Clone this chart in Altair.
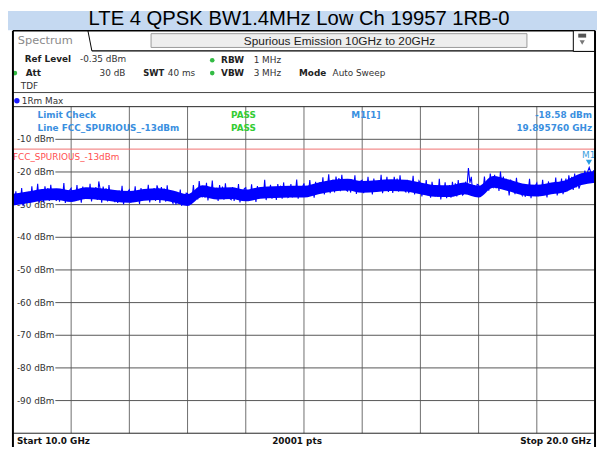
import altair as alt
import numpy as np
import pandas as pd

# ---------------- data ----------------
title_text = "LTE 4 QPSK BW1.4MHz Low Ch 19957 1RB-0"
start_ghz = 10.0
stop_ghz = 20.0

trace_dbm = [
    -26.8, -30.0, -25.9, -29.4, -27.0, -29.8, -24.9, -30.4, -26.7, -29.0,
    -28.6, -26.1, -29.3, -24.4, -29.0, -26.5, -28.2, -23.6, -29.4, -27.0,
    -25.4, -29.3, -24.4, -27.3, -24.9, -28.9, -23.9, -28.1, -25.9, -28.5,
    -28.7, -25.3, -29.1, -26.6, -27.9, -23.4, -29.5, -26.8, -28.3, -25.6,
    -25.0, -29.0, -26.0, -28.2, -24.0, -28.6, -26.5, -29.4, -24.5, -27.8,
    -27.8, -25.3, -28.2, -23.6, -29.0, -25.9, -27.4, -24.6, -28.6, -22.9,
    -25.5, -29.4, -24.5, -27.4, -25.0, -29.0, -24.0, -28.2, -26.0, -28.6,
    -29.1, -26.9, -29.5, -25.7, -28.3, -24.2, -29.9, -26.8, -28.7, -26.0,
    -25.4, -29.4, -26.4, -28.6, -24.4, -29.0, -26.9, -29.8, -24.9, -28.2,
    -28.1, -25.6, -28.5, -23.9, -29.3, -26.4, -27.7, -24.9, -28.9, -24.1,
    -25.6, -29.5, -24.6, -27.5, -25.1, -29.1, -24.1, -28.3, -26.1, -28.7,
    -29.6, -26.2, -30.0, -27.0, -28.8, -25.4, -30.4, -27.3, -29.2, -26.5,
    -26.6, -30.2, -26.8, -28.6, -24.0, -28.2, -25.8, -28.4, -22.8, -26.5,
    -27.5, -24.9, -27.9, -23.3, -28.7, -25.8, -27.1, -22.6, -28.3, -25.3,
    -25.0, -28.9, -24.0, -26.9, -24.5, -28.5, -23.5, -27.7, -25.5, -28.1,
    -28.5, -24.6, -28.9, -26.1, -27.7, -23.7, -29.3, -26.4, -28.1, -25.1,
    -24.8, -28.8, -25.8, -28.0, -23.8, -28.4, -26.3, -29.2, -24.3, -27.6,
    -27.4, -25.2, -27.8, -22.4, -28.6, -25.5, -27.0, -23.9, -28.2, -26.0,
    -24.7, -28.6, -23.7, -26.6, -24.2, -28.2, -23.2, -27.4, -25.2, -27.8,
    -27.4, -23.7, -27.8, -25.3, -26.6, -22.3, -28.2, -25.1, -27.0, -24.6,
    -23.5, -27.5, -24.5, -26.7, -22.5, -27.1, -25.0, -27.9, -23.0, -26.3,
    -25.7, -23.1, -26.1, -21.6, -26.9, -23.9, -25.3, -20.7, -26.5, -23.5,
    -22.4, -26.3, -21.4, -24.3, -21.9, -25.9, -20.9, -25.1, -22.9, -25.5,
    -25.9, -22.6, -26.3, -24.0, -25.1, -21.0, -26.7, -23.7, -25.5, -22.8,
    -22.5, -26.5, -23.5, -25.7, -21.5, -26.1, -24.0, -26.9, -22.0, -25.3,
    -25.3, -22.9, -25.7, -20.9, -26.5, -23.6, -24.9, -21.5, -26.1, -23.9,
    -22.5, -26.4, -21.5, -24.4, -22.0, -26.0, -21.0, -25.2, -23.0, -25.6,
    -26.1, -22.4, -26.5, -23.8, -25.3, -21.2, -26.9, -24.0, -25.7, -22.7,
    -23.5, -27.5, -24.5, -26.7, -22.5, -27.1, -25.0, -27.9, -23.0, -26.3,
    -27.2, -24.6, -27.6, -22.1, -28.4, -25.1, -26.8, -23.2, -28.0, -25.6,
    -24.0, -27.9, -23.0, -25.9, -23.5, -27.5, -22.5, -26.7, -24.5, -27.1,
    -26.6, -23.0, -24.5, -18.8, -23.3, -21.5, -26.9, -24.0, -27.2, -23.8,
    -24.0, -27.6, -24.2, -26.0, -21.4, -25.6, -23.1, -25.7, -20.5, -23.6,
    -24.6, -20.9, -25.0, -21.9, -25.8, -19.9, -24.2, -21.4, -25.4, -22.4,
    -23.3, -27.2, -22.3, -25.2, -22.8, -26.8, -21.8, -26.0, -23.8, -26.4,
    -27.2, -23.9, -27.6, -25.4, -26.4, -22.1, -28.0, -25.0, -26.8, -24.2,
    -23.4, -27.4, -24.4, -26.6, -22.4, -27.0, -24.9, -27.8, -22.9, -26.2,
    -26.0, -23.6, -26.4, -21.7, -27.2, -24.3, -25.6, -22.0, -26.8, -24.6,
    -22.0, -25.9, -21.0, -23.9, -21.5, -25.5, -20.5, -24.7, -22.5, -25.1,
    -23.6, -20.5, -23.0, -19.6, -21.6, -19.8, -18.58, -20.0, -23.0, -19.5,
    -21.2,
]
# sweep points, evenly spaced between start and stop frequency
freq_ghz = np.linspace(start_ghz, stop_ghz, len(trace_dbm))

# dense core of the noise band, read every 0.25 GHz
core_hi_dbm = [
    -26.7, -26.0, -25.2, -25.0, -25.6, -24.7, -25.0, -25.5, -25.8, -25.2,
    -25.0, -25.7, -26.8, -24.1, -24.8, -24.7, -25.4, -24.6, -24.4, -24.2,
    -24.2, -23.2, -22.4, -22.1, -22.8, -22.5, -22.2, -22.4, -23.2, -24.0,
    -24.1, -23.2, -24.2, -21.2, -22.2, -23.5, -23.9, -23.2, -22.5, -20.5,
    -19.7,
]
core_lo_dbm = [
    -30.3, -29.6, -28.8, -28.6, -29.2, -28.3, -28.6, -29.1, -29.4, -28.8,
    -28.6, -29.3, -30.4, -27.7, -28.4, -28.3, -29.0, -28.2, -28.0, -27.8,
    -27.8, -26.8, -26.0, -25.7, -26.4, -26.1, -25.8, -26.0, -26.8, -27.6,
    -27.7, -26.8, -27.8, -24.8, -25.8, -27.1, -27.5, -26.8, -26.1, -24.1,
    -23.3,
]
core_ghz = np.linspace(start_ghz, stop_ghz, len(core_hi_dbm))

grid_x_ghz = [11, 12, 13, 14, 15, 16, 17, 18, 19]
grid_y_dbm = [-10, -20, -30, -40, -50, -60, -70, -80, -90]
grid_y_labels = ["-10 dBm", "-20 dBm", "-30 dBm", "-40 dBm", "-50 dBm",
                 "-60 dBm", "-70 dBm", "-80 dBm", "-90 dBm"]
limit_dbm = [-13]
limit_name = "FCC_SPURIOUS_-13dBm"
marker_ghz = [19.895760]
marker_dbm = [-18.58]

# ---------------- layout ----------------
W, H = 590, 331
FONT = "DejaVu Sans"
BLUE_TXT = "#3a8fe0"

xs = alt.Scale(domain=[start_ghz, stop_ghz], nice=False, zero=False)
ys = alt.Scale(domain=[-100, 0], nice=False, zero=False)

one = pd.DataFrame({"a": [0]})


def txt(s, x, y, size=9, color="#222", weight="normal", align="left",
        font=FONT, baseline="middle"):
    return alt.Chart(one).mark_text(
        text=s, fontSize=size, color=color, fontWeight=weight, align=align,
        font=font, baseline=baseline
    ).encode(x=alt.value(x), y=alt.value(y))


def rect(x, x2, y, y2, fill, stroke=None, sw=1):
    kw = dict(fill=fill)
    if stroke:
        kw.update(stroke=stroke, strokeWidth=sw)
    return alt.Chart(one).mark_rect(**kw).encode(
        x=alt.value(x), x2=alt.value(x2), y=alt.value(y), y2=alt.value(y2))


def line(x, x2, y, y2, color="#000", sw=1):
    return alt.Chart(one).mark_rule(color=color, strokeWidth=sw).encode(
        x=alt.value(x), x2=alt.value(x2), y=alt.value(y), y2=alt.value(y2))


def dot(x, y, color, size=22, shape="circle"):
    return alt.Chart(one).mark_point(
        shape=shape, filled=True, color=color, size=size, opacity=1
    ).encode(x=alt.value(x), y=alt.value(y))


layers = []

# title bar
layers.append(rect(-5, 592, -97, -77.5, "#c5d9f1"))
layers.append(txt(title_text, 290, -82.5, size=20.5, color="#000",
                  align="center", font="Liberation Sans", baseline="alphabetic"))

# header panel
layers.append(rect(0, 590, -77, 345, "#ffffff"))
layers.append(rect(140, 521, -74, -60, "#eeeeee", stroke="#9a9a9a"))
layers.append(txt("Spurious Emission 10GHz to 20GHz", 331, -67, size=12,
                  color="#222", align="center", font="Liberation Sans"))
layers.append(line(0, 590, -77, -77, "#000", 1.5))
layers.append(line(76, 80, -77, -56.5, "#000", 1))
layers.append(line(80, 590, -56.5, -56.5, "#000", 1.2))
layers.append(rect(568, 590, -77, -56, "#ffffff", stroke="#000"))
layers.append(rect(573, 581, -74, -70, "#555555"))
layers.append(dot(577, -65, "#777777", size=28, shape="triangle-down"))
layers.append(txt("Spectrum", 5, -67, size=11.5, color="#8a8a8a"))

layers.append(txt("Ref Level", 12, -48, weight="bold"))
layers.append(txt("-0.35 dBm", 68, -48, color="#333"))
layers.append(dot(2, -34, "#33bb44"))
layers.append(txt("Att", 13, -34, weight="bold"))
layers.append(txt("30 dB", 114, -34, color="#333", align="right"))
layers.append(txt("SWT", 132, -34, weight="bold", size=8.5))
layers.append(txt("40 ms", 157, -34, color="#333"))
layers.append(dot(202, -47, "#33bb44"))
layers.append(txt("RBW", 211, -47, weight="bold"))
layers.append(txt("1 MHz", 244, -47, color="#333"))
layers.append(dot(202, -34, "#33bb44"))
layers.append(txt("VBW", 211, -34, weight="bold"))
layers.append(txt("3 MHz", 244, -34, color="#333"))
layers.append(txt("Mode", 290, -34, weight="bold"))
layers.append(txt("Auto Sweep", 324, -34, color="#333"))
layers.append(txt("TDF", 8, -21, color="#333"))
layers.append(line(0, 590, -14.3, -14.3, "#444", 1))
layers.append(dot(4, -6, "#1a1aff", size=30))
layers.append(txt("1Rm Max", 9, -6, color="#333"))

# plot grid
gx = pd.DataFrame({"f": grid_x_ghz})
gy = pd.DataFrame({"dbm": grid_y_dbm, "lab": grid_y_labels})
layers.append(alt.Chart(gx).mark_rule(color="#6e6e6e", strokeWidth=1).encode(
    x=alt.X("f:Q", scale=xs, axis=None), y=alt.value(0), y2=alt.value(H)))
layers.append(alt.Chart(gy).mark_rule(color="#555555", strokeWidth=1).encode(
    y=alt.Y("dbm:Q", scale=ys, axis=None), x=alt.value(43), x2=alt.value(W)))
layers.append(alt.Chart(gy).mark_text(
    align="left", baseline="middle", fontSize=9, font=FONT, color="#333"
).encode(y=alt.Y("dbm:Q", scale=ys, axis=None), x=alt.value(4), text="lab:N"))

# limit line
lim = pd.DataFrame({"dbm": limit_dbm, "lab": [limit_name]})
layers.append(alt.Chart(lim).mark_rule(color="#f07070", strokeWidth=1).encode(
    y=alt.Y("dbm:Q", scale=ys, axis=None), x=alt.value(0), x2=alt.value(W)))
layers.append(alt.Chart(lim).mark_text(
    align="left", baseline="middle", fontSize=9, font=FONT, color="#ff5050", dy=8
).encode(y=alt.Y("dbm:Q", scale=ys, axis=None), x=alt.value(0), text="lab:N"))

# trace: dense core band plus the spiky max-hold trace
core = pd.DataFrame({"f": core_ghz, "hi": core_hi_dbm, "lo": core_lo_dbm})
layers.append(alt.Chart(core).mark_area(color="#0000ff", opacity=1, interpolate="monotone").encode(
    x=alt.X("f:Q", scale=xs, axis=None),
    y=alt.Y("hi:Q", scale=ys, axis=None), y2="lo:Q"))
tr = pd.DataFrame({"f": freq_ghz, "dbm": trace_dbm})
layers.append(alt.Chart(tr).mark_line(color="#0000ff", strokeWidth=1.1).encode(
    x=alt.X("f:Q", scale=xs, axis=None), y=alt.Y("dbm:Q", scale=ys, axis=None)))

# marker
mk = pd.DataFrame({"f": marker_ghz, "dbm": marker_dbm})
layers.append(alt.Chart(mk).mark_point(
    shape="triangle-down", filled=True, color="#2a9de0", size=40, opacity=1, yOffset=-5
).encode(x=alt.X("f:Q", scale=xs, axis=None), y=alt.Y("dbm:Q", scale=ys, axis=None)))
layers.append(alt.Chart(mk).mark_text(
    text="M1", align="left", baseline="middle", fontSize=9, font=FONT,
    color="#3aa0e0", dx=-7, dy=-12
).encode(x=alt.X("f:Q", scale=xs, axis=None), y=alt.Y("dbm:Q", scale=ys, axis=None)))

# limit check / marker readouts
layers.append(txt("Limit Check", 25, 8, color=BLUE_TXT, weight="bold"))
layers.append(txt("Line FCC_SPURIOUS_-13dBm", 25, 22, color=BLUE_TXT, weight="bold"))
layers.append(txt("PASS", 221, 8, color="#33cc33", weight="bold"))
layers.append(txt("PASS", 221, 22, color="#33cc33", weight="bold"))
layers.append(txt("M1[1]", 343, 8, color=BLUE_TXT, weight="bold"))
layers.append(txt("-18.58 dBm", 587, 8, color=BLUE_TXT, weight="bold", align="right"))
layers.append(txt("19.895760 GHz", 587, 22, color=BLUE_TXT, weight="bold", align="right"))

# frame
layers.append(line(0, W, 0, 0, "#222", 1))
layers.append(line(0, W, H, H, "#222", 1))
layers.append(line(0, 0, -77, 345, "#000", 2))
layers.append(line(W, W, -77, 345, "#000", 2))

# status bar
layers.append(txt("Start 10.0 GHz", 4, 339, weight="bold", color="#111"))
layers.append(txt("20001 pts", 288, 339, weight="bold", color="#111", align="center"))
layers.append(txt("Stop 20.0 GHz", 586, 339, weight="bold", color="#111", align="right"))

chart = alt.layer(*layers).properties(
    width=W, height=H,
    autosize=alt.AutoSizeParams(type="none"),
    padding={"left": 5, "top": 97, "right": 2, "bottom": 14},
    background="#ffffff",
).configure_view(stroke=None)

chart.save("out.html", embed_options={"renderer": "svg", "actions": False})
